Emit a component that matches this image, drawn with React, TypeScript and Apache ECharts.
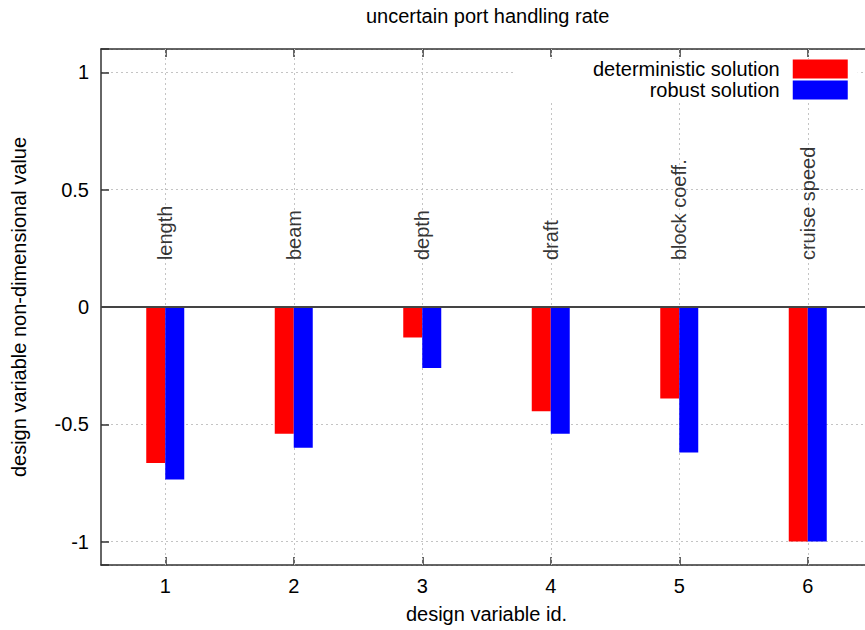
import React, { useEffect, useRef } from "react";
import * as echarts from "echarts";

const categories = ["1", "2", "3", "4", "5", "6"];
const variableNames = ["length", "beam", "depth", "draft", "block coeff.", "cruise speed"];
const deterministic = [-0.665, -0.54, -0.13, -0.445, -0.39, -1.0];
const robust = [-0.735, -0.6, -0.26, -0.54, -0.62, -1.0];
const nameLevel = 0.2;

const FONT = "'Liberation Sans', Arial, Helvetica, sans-serif";
const AXIS_COLOR = "#333";
const GRID_COLOR = "#c4c4c4";
const CANVAS_W = 880;

export default function App() {
  const ref = useRef<HTMLDivElement>(null);
  useEffect(() => {
    if (!ref.current) return;
    const chart = echarts.init(ref.current, undefined, { renderer: "svg" });
    const textBase = { fontFamily: FONT, fontSize: 20, color: "#000" };
    chart.setOption({
      animation: false,
      backgroundColor: "#fff",
      textStyle: { fontFamily: FONT },
      title: {
        text: "uncertain port handling rate",
        left: 366,
        top: 6,
        padding: 0,
        textStyle: { ...textBase, fontWeight: "normal" },
      },
      legend: {
        data: ["deterministic solution", "robust solution"],
        orient: "vertical",
        align: "right",
        left: 514,
        top: 59,
        itemWidth: 55,
        itemHeight: 19,
        itemGap: 1,
        padding: [0, 10, 2, 79],
        backgroundColor: "#fff",
        icon: "rect",
        selectedMode: false,
        textStyle: { ...textBase, lineHeight: 19, padding: [0, 8, 0, 0] },
        z: 6,
      },
      grid: { left: 101, top: 49, width: 771, bottom: 65, containLabel: false },
      xAxis: [
        {
          type: "category",
          data: categories,
          position: "bottom",
          boundaryGap: true,
          name: "design variable id.",
          nameLocation: "middle",
          nameGap: 39,
          nameTextStyle: textBase,
          axisLine: { show: true, onZero: false, lineStyle: { color: AXIS_COLOR, width: 1.5 } },
          axisTick: { show: true, inside: true, alignWithLabel: true, length: 8, lineStyle: { color: AXIS_COLOR, width: 1.5 } },
          axisLabel: { ...textBase, margin: 11 },
          splitLine: { show: false },
        },
        {
          type: "category",
          data: categories,
          position: "top",
          boundaryGap: true,
          axisLine: { show: true, onZero: false, lineStyle: { color: AXIS_COLOR, width: 1.5 } },
          axisTick: { show: true, inside: true, alignWithLabel: true, length: 8, lineStyle: { color: AXIS_COLOR, width: 1.5 } },
          axisLabel: { show: false },
          splitLine: { show: false },
        },
      ],
      yAxis: {
        type: "value",
        min: -1.1,
        max: 1.1,
        name: "design variable non-dimensional value",
        nameLocation: "middle",
        nameRotate: 90,
        nameGap: 72,
        nameTextStyle: textBase,
        axisLine: { show: true, onZero: false, lineStyle: { color: AXIS_COLOR, width: 1.5 } },
        axisTick: { show: true, inside: true, length: 8, lineStyle: { color: AXIS_COLOR, width: 1.5 } },
        axisLabel: {
          ...textBase,
          margin: 12,
          formatter: (v: number) => (Math.abs(Math.abs(v) - 1.1) < 1e-6 ? "" : String(Math.round(v * 10) / 10)),
        },
        splitLine: { show: true, lineStyle: { color: GRID_COLOR, type: [2, 3], width: 1 } },
      },
      series: [
        {
          name: "deterministic solution",
          type: "bar",
          data: deterministic,
          barWidth: 19,
          barGap: "0%",
          itemStyle: { color: "#ff0000" },
          z: 2,
          markLine: {
            silent: true,
            symbol: ["none", "none"],
            label: { show: false },
            z: 3,
            lineStyle: { color: "#444", type: "solid", width: 2 },
            data: [{ yAxis: 0 }],
          },
        },
        {
          name: "robust solution",
          type: "bar",
          data: robust,
          barWidth: 19,
          barGap: "0%",
          itemStyle: { color: "#0000ff" },
          z: 2,
        },
        {
          name: "names",
          type: "scatter",
          symbolSize: 0,
          itemStyle: { color: "#000" },
          data: variableNames.map((n, i) => ({ value: [i, nameLevel], name: n })),
          silent: true,
          label: {
            show: true,
            position: "inside",
            rotate: 90,
            align: "left",
            verticalAlign: "middle",
            formatter: (p: any) => p.name,
            ...textBase,
            textBorderWidth: 0,
            textBorderColor: "transparent",
          },
          z: 4,
          markLine: {
            silent: true,
            symbol: ["none", "none"],
            label: { show: false },
            z: 1,
            lineStyle: { color: GRID_COLOR, type: [2, 3], width: 1 },
            data: categories.map((_, i) => ({ xAxis: i })),
          },
        },
      ],
    });
    return () => chart.dispose();
  }, []);
  return (
    <div style={{ position: "absolute", left: 0, top: 0, width: 865, height: 630, overflow: "hidden" }}>
      <div ref={ref} style={{ width: CANVAS_W, height: 630 }} />
    </div>
  );
}
